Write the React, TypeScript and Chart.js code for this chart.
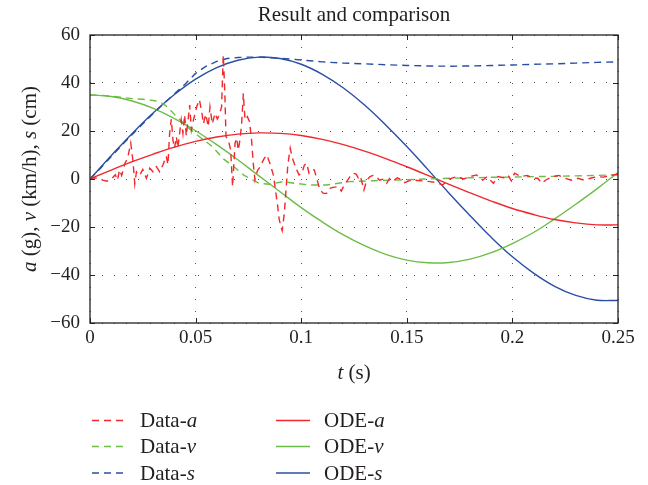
import React, { useEffect, useRef } from "react";
import { Chart, registerables } from "chart.js";

Chart.register(...registerables);

const TITLE = "Result and comparison";
const X_TICKS = [0, 0.05, 0.1, 0.15, 0.2, 0.25];
const Y_TICKS = [-60, -40, -20, 0, 20, 40, 60];

// ODE solution
const odeT = [0, 0.01, 0.02, 0.03, 0.04, 0.05, 0.06, 0.07, 0.08, 0.09, 0.1, 0.11, 0.12, 0.13, 0.14, 0.15, 0.16, 0.17, 0.18, 0.19, 0.2, 0.21, 0.22, 0.23, 0.24, 0.25];
const odeA = [0, 3.7, 7.2, 10.4, 13.3, 15.7, 17.5, 18.7, 19.2, 19.0, 18.1, 16.5, 14.3, 11.6, 8.5, 5.1, 1.5, -2.2, -5.8, -9.2, -12.3, -14.8, -16.9, -18.3, -19.1, -19.1];
const odeV = [35, 34.4, 32.5, 29.4, 25.2, 20.1, 14.3, 8.0, 1.3, -5.3, -11.9, -17.9, -23.3, -27.8, -31.4, -33.8, -34.9, -34.8, -33.4, -30.7, -26.9, -22.3, -16.6, -10.5, -4.1, 2.7];
const odeS = [0, 9.7, 19.0, 27.6, 35.2, 41.6, 46.4, 49.5, 50.8, 50.2, 47.8, 43.6, 37.9, 30.8, 22.5, 13.5, 3.9, -5.9, -15.3, -24.3, -32.4, -39.2, -44.7, -48.5, -50.5, -50.6];

// Measured data
const dataAT = [0, 0.002, 0.004, 0.006, 0.008, 0.01, 0.012, 0.013, 0.014, 0.015, 0.0165, 0.0178, 0.0193, 0.0204, 0.0212, 0.022, 0.0235, 0.025, 0.0267, 0.0283, 0.0298, 0.0314, 0.033, 0.0346, 0.0361, 0.0369, 0.0377, 0.0385, 0.0393, 0.04, 0.0409, 0.0416, 0.0432, 0.044, 0.0448, 0.0456, 0.0472, 0.048, 0.049, 0.0505, 0.0518, 0.0529, 0.0537, 0.0548, 0.056, 0.0568, 0.0579, 0.0592, 0.0603, 0.0612, 0.0623, 0.0631, 0.0638, 0.0644, 0.0655, 0.0666, 0.0675, 0.0687, 0.0695, 0.0702, 0.071, 0.0718, 0.0726, 0.0734, 0.0745, 0.0755, 0.0765, 0.0773, 0.0781, 0.0793, 0.0805, 0.0813, 0.0825, 0.0837, 0.0852, 0.0868, 0.0876, 0.0889, 0.0895, 0.0904, 0.091, 0.092, 0.0927, 0.0936, 0.0942, 0.0948, 0.0957, 0.0967, 0.0979, 0.099, 0.1003, 0.1015, 0.1026, 0.1037, 0.105, 0.1062, 0.1073, 0.1089, 0.1105, 0.112, 0.1136, 0.115, 0.1176, 0.119, 0.12, 0.1215, 0.1231, 0.1247, 0.126, 0.127, 0.128, 0.1297, 0.131, 0.1326, 0.134, 0.1357, 0.137, 0.139, 0.1405, 0.142, 0.144, 0.1455, 0.1476, 0.149, 0.151, 0.153, 0.155, 0.158, 0.161, 0.164, 0.167, 0.17, 0.1736, 0.177, 0.18, 0.183, 0.186, 0.188, 0.191, 0.193, 0.196, 0.198, 0.1995, 0.201, 0.204, 0.207, 0.21, 0.212, 0.2139, 0.216, 0.219, 0.222, 0.225, 0.228, 0.231, 0.234, 0.237, 0.24, 0.243, 0.2478, 0.25];
const dataAV = [0, 0.5, 0.3, -0.5, -0.9, -0.1, 1.8, -0.5, 3.8, 1.5, 6.5, 8.6, 15, 7, -2, 3, 1.5, 4, 0.3, 4.5, 3, 5.2, 3, 6, 9.5, 6, 19, 25, 16, 12.8, 17.6, 13, 24.6, 19, 26.7, 18, 30.8, 20.4, 24.6, 30, 33, 28, 23, 27, 21.8, 30, 23, 27.4, 25, 26.7, 30, 51.5, 37, 17.6, 16.3, 12, -3.2, 15, 17, 12, 16.3, 23, 35.7, 24.6, 26, 24, 16.3, 6.5, -0.4, 3.5, 5, 6.5, 8.6, 10, 6.5, 1.7, -3.2, -11.5, -16.4, -20, -21.5, -14.3, -6, 5, 9.3, 12.8, 9, 6.5, 3.8, 1.7, 2.4, 5.8, 6.5, 2.4, 3.8, 3.8, 0.3, -4.6, -6, -6, -3.9, -3.5, -3.2, -5, -3.2, -1.1, 1, 2.4, 2, 0.5, 1.3, -4.6, -0.5, 1, 1.5, 1, -0.5, 0, -1.8, 0.5, -0.5, 0.5, -0.4, -1.5, -0.8, -0.4, -0.6, -0.8, -1.1, -1.5, -2.5, 0, 1, 0, 1, 1.7, -0.5, 1, -1.8, 1, 0.5, 1.5, -0.8, 2.4, 1, 1.5, 0.3, 0.3, -1.8, -0.3, 1, 1.5, 0.3, -0.5, 0.3, -0.5, 0.3, 1, 0.8, 1.7, 2];

const dataVT = [0, 0.005, 0.01, 0.015, 0.02, 0.025, 0.03, 0.033, 0.036, 0.041, 0.047, 0.052, 0.058, 0.063, 0.069, 0.073, 0.08, 0.085, 0.0915, 0.097, 0.104, 0.112, 0.123, 0.134, 0.147, 0.16, 0.17, 0.18, 0.19, 0.2, 0.21, 0.22, 0.23, 0.24, 0.25];
const dataVV = [35, 34.9, 34.5, 34, 33.5, 33.2, 32.7, 32.2, 30.5, 26, 21, 17.5, 13.5, 8.5, 4.5, 1.5, -1.8, -2.2, -1.1, -1.8, -2.5, -2.5, -1.1, -0.7, -0.4, 0, 0.3, 0.5, 0.7, 0.8, 1, 1.1, 1.3, 1.5, 1.8];

const dataST = [0, 0.005, 0.01, 0.015, 0.02, 0.025, 0.03, 0.035, 0.04, 0.045, 0.05, 0.055, 0.06, 0.065, 0.07, 0.075, 0.08, 0.09, 0.1, 0.11, 0.12, 0.13, 0.14, 0.15, 0.16, 0.17, 0.18, 0.19, 0.2, 0.21, 0.22, 0.23, 0.24, 0.25];
const dataSV = [0, 4.5, 9.3, 14, 18.5, 23, 27.3, 31.5, 35.5, 39.5, 44, 47, 49, 50.2, 50.6, 50.8, 50.8, 50.3, 49.6, 48.8, 48.3, 48, 47.6, 47.3, 47.1, 47, 47.1, 47.3, 47.5, 47.8, 48, 48.3, 48.6, 48.8];

const RED = "#f0282d";
const GREEN = "#6cbd45";
const BLUE = "#2b4ea3";
const TEXT = "#231f20";
const SERIF = '"Liberation Serif", "Times New Roman", serif';

const LEGEND = [
  { name: "Data-", v: "a", color: RED, dash: true, col: 0, row: 0 },
  { name: "Data-", v: "v", color: GREEN, dash: true, col: 0, row: 1 },
  { name: "Data-", v: "s", color: BLUE, dash: true, col: 0, row: 2 },
  { name: "ODE-", v: "a", color: RED, dash: false, col: 1, row: 0 },
  { name: "ODE-", v: "v", color: GREEN, dash: false, col: 1, row: 1 },
  { name: "ODE-", v: "s", color: BLUE, dash: false, col: 1, row: 2 },
];

const DASH = [7, 5];

function pts(t: number[], v: number[]) {
  return t.map((x, i) => ({ x, y: v[i] }));
}

function drawRich(ctx: CanvasRenderingContext2D, parts: [string, boolean][], cx: number, y: number, size: number, align: "center" | "left") {
  const widths = parts.map(([s, it]) => {
    ctx.font = `${it ? "italic " : ""}${size}px ${SERIF}`;
    return ctx.measureText(s).width;
  });
  const total = widths.reduce((a, b) => a + b, 0);
  let x = align === "center" ? cx - total / 2 : cx;
  ctx.textAlign = "left";
  ctx.textBaseline = "alphabetic";
  parts.forEach(([s, it], i) => {
    ctx.font = `${it ? "italic " : ""}${size}px ${SERIF}`;
    ctx.fillText(s, x, y);
    x += widths[i];
  });
}

const overlay = {
  id: "overlay",
  afterDraw(chart: any) {
    const { ctx, chartArea: a } = chart;
    const xs = chart.scales.x;
    const ys = chart.scales.y;
    ctx.save();
    // frame
    ctx.strokeStyle = "#222";
    ctx.lineWidth = 1.3;
    ctx.setLineDash([]);
    ctx.strokeRect(a.left, a.top, a.right - a.left, a.bottom - a.top);
    // inner tick marks
    ctx.lineWidth = 1;
    ctx.beginPath();
    X_TICKS.forEach((v) => {
      const px = Math.round(xs.getPixelForValue(v)) + 0.5;
      ctx.moveTo(px, a.bottom); ctx.lineTo(px, a.bottom - 5);
      ctx.moveTo(px, a.top); ctx.lineTo(px, a.top + 5);
    });
    Y_TICKS.forEach((v) => {
      const py = Math.round(ys.getPixelForValue(v)) + 0.5;
      ctx.moveTo(a.left, py); ctx.lineTo(a.left + 5, py);
      ctx.moveTo(a.right, py); ctx.lineTo(a.right - 5, py);
    });
    ctx.stroke();
    // title
    ctx.fillStyle = TEXT;
    drawRich(ctx, [[TITLE, false]], (a.left + a.right) / 2, 21, 21, "center");
    // x axis label
    drawRich(ctx, [["t", true], [" (s)", false]], (a.left + a.right) / 2, 379, 21, "center");
    // y axis label
    ctx.save();
    ctx.translate(36, (a.top + a.bottom) / 2);
    ctx.rotate(-Math.PI / 2);
    drawRich(ctx, [["a", true], [" (g), ", false], ["v", true], [" (km/h), ", false], ["s", true], [" (cm)", false]], 0, 0, 21, "center");
    ctx.restore();
    // legend
    const colLine = [[92, 127], [276, 310]];
    const colText = [140, 324];
    const rowY = [420.5, 446.5, 473];
    LEGEND.forEach((it) => {
      const y = rowY[it.row];
      ctx.strokeStyle = it.color;
      ctx.lineWidth = 1.5;
      ctx.setLineDash(it.dash ? DASH : []);
      ctx.beginPath();
      ctx.moveTo(colLine[it.col][0], y);
      ctx.lineTo(colLine[it.col][1], y);
      ctx.stroke();
      ctx.setLineDash([]);
      ctx.fillStyle = TEXT;
      drawRich(ctx, [[it.name, false], [it.v, true]], colText[it.col], y + 6.5, 21, "left");
    });
    ctx.restore();
  },
};

export default function App() {
  const ref = useRef<HTMLCanvasElement | null>(null);
  useEffect(() => {
    document.body.style.margin = "0";
    const canvas = ref.current;
    if (!canvas) return;
    const line = (label: string, d: { x: number; y: number }[], color: string, dashed: boolean) => ({
      label,
      data: d,
      borderColor: color,
      backgroundColor: color,
      borderWidth: 1.4,
      borderDash: dashed ? DASH : [],
      pointRadius: 0,
      tension: dashed ? 0 : 0.4,
      fill: false,
    });
    const chart = new Chart(canvas, {
      type: "line",
      data: {
        datasets: [
          line("Data-a", pts(dataAT, dataAV), RED, true),
          line("Data-v", pts(dataVT, dataVV), GREEN, true),
          line("Data-s", pts(dataST, dataSV), BLUE, true),
          line("ODE-a", pts(odeT, odeA), RED, false),
          line("ODE-v", pts(odeT, odeV), GREEN, false),
          line("ODE-s", pts(odeT, odeS), BLUE, false),
        ] as any,
      },
      options: {
        responsive: false,
        animation: false,
        devicePixelRatio: 1,
        layout: { padding: { top: 35, right: 30, left: 0, bottom: 0 } },
        plugins: { legend: { display: false }, tooltip: { enabled: false }, title: { display: false } },
        scales: {
          x: {
            type: "linear",
            min: 0,
            max: 0.25,
            afterBuildTicks: (s: any) => { s.ticks = X_TICKS.map((value) => ({ value })); },
            afterFit: (s: any) => { s.height = 162; },
            grid: { color: "#555", lineWidth: 1, drawTicks: false },
            border: { display: false, dash: [1, 11] },
            ticks: {
              padding: 4,
              color: TEXT,
              font: { family: SERIF, size: 19 },
              maxRotation: 0,
              callback: (v: any) => String(parseFloat(Number(v).toFixed(3))),
            },
          },
          y: {
            type: "linear",
            min: -60,
            max: 60,
            afterBuildTicks: (s: any) => { s.ticks = Y_TICKS.map((value) => ({ value })); },
            afterFit: (s: any) => { s.width = 90; },
            grid: { color: "#555", lineWidth: 1, drawTicks: false },
            border: { display: false, dash: [1, 11] },
            ticks: {
              padding: 10,
              color: TEXT,
              font: { family: SERIF, size: 19 },
              callback: (v: any) => (Number(v) < 0 ? "\u2212" + Math.abs(Number(v)) : String(v)),
            },
          },
        },
      } as any,
      plugins: [overlay],
    });
    return () => chart.destroy();
  }, []);
  return (
    <div style={{ width: 648, height: 485, position: "relative", background: "#fff" }}>
      <canvas ref={ref} width={648} height={485} style={{ display: "block" }} />
    </div>
  );
}
